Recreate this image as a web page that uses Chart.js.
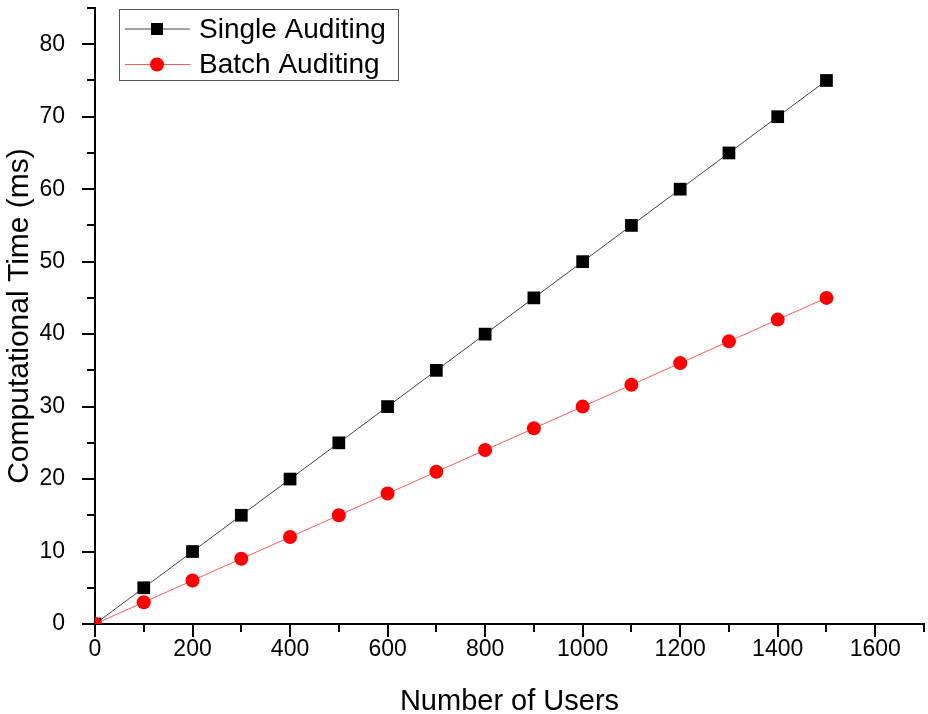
<!DOCTYPE html>
<html>
<head>
<meta charset="utf-8">
<script src="https://cdn.jsdelivr.net/npm/chart.js@4.4.0/dist/chart.umd.min.js"></script>
<style>
  body { margin: 0; background: #fff; }
  canvas { display: block; }
</style>
</head>
<body>
<canvas id="timeChart" width="928" height="714"></canvas>
<script>
const users = [0, 100, 200, 300, 400, 500, 600, 700, 800, 900, 1000, 1100, 1200, 1300, 1400, 1500];
const singleTime = [0, 5, 10, 15, 20, 25, 30, 35, 40, 45, 50, 55, 60, 65, 70, 75];
const batchTime = [0, 3, 6, 9, 12, 15, 18, 21, 24, 27, 30, 33, 36, 39, 42, 45];
const seriesNames = ['Single Auditing', 'Batch Auditing'];

const FONT = '"Liberation Sans", Arial, sans-serif';

function toPoints(xs, ys) {
    return xs.map((x, i) => ({ x: x, y: ys[i] }));
}

// fixed axis sizes, no extra label padding
function fixBox(size, horizontal) {
    return s => {
        if (horizontal) s.height = size; else s.width = size;
        s.paddingTop = 0;
        s.paddingBottom = 0;
        s.paddingLeft = 0;
        s.paddingRight = 0;
    };
}

// outward ticks, long on labelled values, short in between
const tickMarks = {
    id: 'tickMarks',
    afterDraw(chart) {
        const ctx = chart.ctx;
        const xs = chart.scales.x;
        const ys = chart.scales.y;
        const area = chart.chartArea;
        ctx.save();
        ctx.strokeStyle = '#000';
        ctx.lineWidth = 2;
        xs.ticks.forEach(t => {
            const px = Math.round(xs.getPixelForValue(t.value));
            const len = t.value % 200 === 0 ? 13 : 8;
            ctx.beginPath();
            ctx.moveTo(px, area.bottom);
            ctx.lineTo(px, area.bottom + len);
            ctx.stroke();
        });
        ys.ticks.forEach(t => {
            const py = Math.round(ys.getPixelForValue(t.value));
            const len = t.value % 10 === 0 ? 13 : 8;
            ctx.beginPath();
            ctx.moveTo(area.left, py);
            ctx.lineTo(area.left - len, py);
            ctx.stroke();
        });
        ctx.restore();
    }
};

// boxed legend in the top left corner of the plot
const boxLegend = {
    id: 'boxLegend',
    afterDraw(chart) {
        const ctx = chart.ctx;
        const sets = chart.data.datasets;
        ctx.save();
        ctx.strokeStyle = '#555';
        ctx.lineWidth = 1;
        ctx.strokeRect(119.5, 9.5, 279, 71);
        sets.forEach((ds, i) => {
            const y = 29 + i * 35.5;
            ctx.strokeStyle = ds.borderColor;
            ctx.lineWidth = 1.2;
            ctx.beginPath();
            ctx.moveTo(125, y);
            ctx.lineTo(190, y);
            ctx.stroke();
            ctx.fillStyle = ds.pointBackgroundColor;
            if (ds.pointStyle === 'rect') {
                ctx.fillRect(151, y - 6, 12, 12);
            } else {
                ctx.beginPath();
                ctx.arc(157, y, 7, 0, Math.PI * 2);
                ctx.fill();
            }
            ctx.fillStyle = '#000';
            ctx.font = '28px ' + FONT;
            ctx.textBaseline = 'middle';
            ctx.fillText(ds.label, 199, y + 1);
        });
        ctx.restore();
    }
};

new Chart(document.getElementById('timeChart'), {
    type: 'scatter',
    data: {
        datasets: [{
            label: seriesNames[0],
            data: toPoints(users, singleTime),
            showLine: true,
            borderColor: '#444',
            borderWidth: 1,
            pointStyle: 'rect',
            pointRadius: 9,
            pointHoverRadius: 9,
            pointBackgroundColor: '#000',
            pointBorderColor: '#000',
            pointBorderWidth: 0,
            order: 1,
            clip: 0
        }, {
            label: seriesNames[1],
            data: toPoints(users, batchTime),
            showLine: true,
            borderColor: '#ff5a5a',
            borderWidth: 1,
            pointStyle: 'circle',
            pointRadius: 7,
            pointHoverRadius: 7,
            pointBackgroundColor: '#ff0000',
            pointBorderColor: '#ff0000',
            pointBorderWidth: 0,
            order: 0,
            clip: 0
        }]
    },
    plugins: [tickMarks, boxLegend],
    options: {
        responsive: false,
        animation: false,
        layout: { autoPadding: false, padding: { top: 8, right: 4, left: 0, bottom: 0 } },
        plugins: {
            legend: { display: false },
            tooltip: { enabled: false }
        },
        scales: {
            x: {
                type: 'linear',
                min: 0,
                max: 1700,
                afterFit: fixBox(90, true),
                // invisible ticks only push the labels down, real ones come from tickMarks
                grid: { display: true, drawOnChartArea: false, drawTicks: true, tickLength: 12, color: 'rgba(0,0,0,0)' },
                border: { display: true, color: '#000', width: 2 },
                ticks: {
                    stepSize: 100,
                    autoSkip: false,
                    maxRotation: 0,
                    padding: 0,
                    color: '#000',
                    font: { family: FONT, size: 23 },
                    callback: v => (v % 200 === 0 ? String(v) : '')
                },
                title: {
                    display: true,
                    text: 'Number of Users',
                    color: '#000',
                    font: { family: FONT, size: 29, lineHeight: 0.8 },
                    padding: 0
                }
            },
            y: {
                type: 'linear',
                min: 0,
                max: 85,
                afterFit: fixBox(95, false),
                grid: { display: false },
                border: { display: true, color: '#000', width: 2 },
                ticks: {
                    stepSize: 5,
                    autoSkip: false,
                    padding: 22,
                    color: '#000',
                    font: { family: FONT, size: 23 },
                    callback: v => (v % 10 === 0 ? String(v) : '')
                },
                title: {
                    display: true,
                    text: 'Computational Time (ms)',
                    color: '#000',
                    font: { family: FONT, size: 30, lineHeight: 1 },
                    padding: { top: 5, bottom: 0 }
                }
            }
        }
    }
});
</script>
</body>
</html>
